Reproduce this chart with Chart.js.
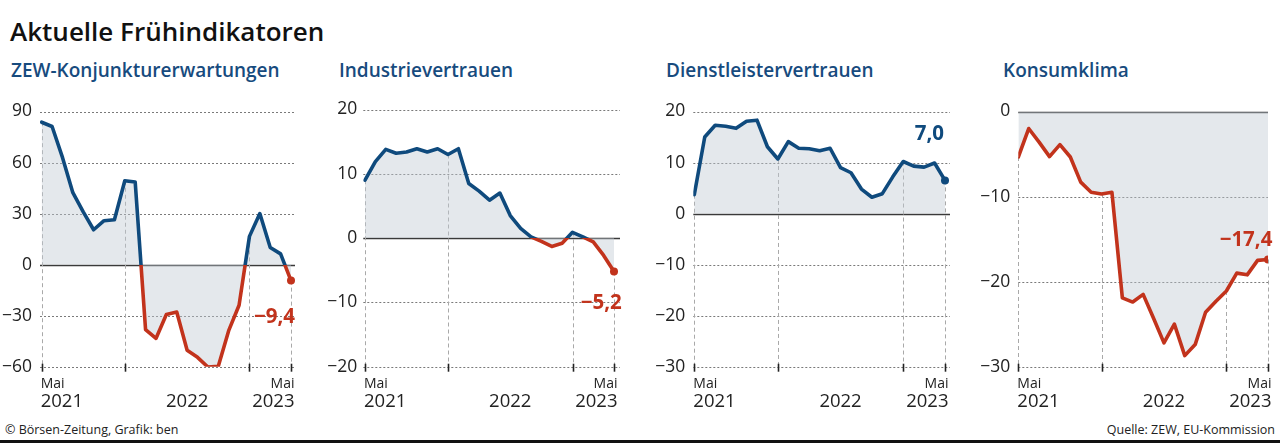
<!DOCTYPE html>
<html><head><meta charset="utf-8">
<script src="https://cdn.jsdelivr.net/npm/chart.js@4.4.0/dist/chart.umd.min.js"></script>
<style>
html,body{margin:0;padding:0;background:#fff;}
body{width:1280px;height:443px;position:relative;overflow:hidden;font-family:'Open Sans',sans-serif;}
.t{position:absolute;white-space:nowrap;line-height:1;}
#title{left:10px;top:18px;font-size:26px;font-weight:600;color:#111;}
.sub{top:61px;font-size:19px;font-weight:600;color:#174b7e;}
canvas{position:absolute;top:93px;}
#foot1{left:5px;top:424px;font-size:12.5px;color:#222;}
#foot2{right:5px;top:424px;font-size:12.5px;color:#222;}
#rule{position:absolute;left:0;top:440px;width:1280px;height:3px;background:#111;}
</style></head><body>
<div class="t" id="title">Aktuelle Frühindikatoren</div>
<div class="t sub" style="left:11px">ZEW-Konjunkturerwartungen</div>
<div class="t sub" style="left:339px">Industrievertrauen</div>
<div class="t sub" style="left:666px">Dienstleistervertrauen</div>
<div class="t sub" style="left:1003px">Konsumklima</div>
<canvas id="c1" width="305" height="322" style="left:0px"></canvas>
<canvas id="c2" width="310" height="322" style="left:320px"></canvas>
<canvas id="c3" width="320" height="322" style="left:640px"></canvas>
<canvas id="c4" width="318" height="322" style="left:960px"></canvas>
<div class="t" id="foot1">© Börsen-Zeitung, Grafik: ben</div>
<div class="t" id="foot2">Quelle: ZEW, EU-Kommission</div>
<div id="rule"></div>
<script>
// ---- data ----
const months = ['Mai 2021','Jun 2021','Jul 2021','Aug 2021','Sep 2021','Okt 2021','Nov 2021','Dez 2021',
  'Jan 2022','Feb 2022','Mär 2022','Apr 2022','Mai 2022','Jun 2022','Jul 2022','Aug 2022','Sep 2022','Okt 2022','Nov 2022','Dez 2022',
  'Jan 2023','Feb 2023','Mär 2023','Apr 2023','Mai 2023'];
const zew = [83.7, 81.2, 63, 42.3, 31, 20.5, 25.8, 26.4, 49.3, 48.6, -38.2, -43.4, -29.3, -27.9, -50.3, -54.5, -60.2, -59.7, -38.8, -23.9, 16.6, 30.0, 10.1, 6.3, -9.4];
const industrie = [9.0, 11.9, 13.8, 13.2, 13.4, 13.9, 13.4, 13.9, 13.0, 13.9, 8.5, 7.3, 5.9, 7.0, 3.5, 1.5, 0.2, -0.5, -1.3, -0.8, 0.9, 0.2, -0.6, -2.7, -5.2];
const dienst = [3.7, 15.0, 17.3, 17.1, 16.7, 18.1, 18.3, 13.1, 10.7, 14.1, 12.8, 12.7, 12.3, 12.8, 9.0, 8.0, 4.8, 3.2, 3.9, 7.2, 10.2, 9.3, 9.1, 9.9, 6.5];
const konsum = [-5.35, -2.0, -3.6, -5.3, -3.9, -5.35, -8.3, -9.5, -9.7, -9.5, -21.9, -22.4, -21.5, -24.3, -27.2, -25.0, -28.7, -27.4, -23.6, -22.3, -21.1, -19.0, -19.2, -17.5, -17.4];
const lastLabels = ['−9,4', '−5,2', '7,0', '−17,4'];
const yTicksZew = [-60, -30, 0, 30, 60, 90];
const yTicksIndustrie = [-20, -10, 0, 10, 20];
const yTicksDienst = [-30, -20, -10, 0, 10, 20];
const yTicksKonsum = [-30, -20, -10, 0];
const dropIdx = [0, 8, 20, 24];
const xLabelIdx = [0, 14, 24];
const xLabelTop = ['Mai', '', 'Mai'];
const xLabelBottom = ['2021', '2022', '2023'];

// ---- style ----
const BLUE = '#0f4a7d', RED = '#c2331c';
const FONT = "'Open Sans', sans-serif";

const panels = [
  {id:'c1', data:zew, ticks:yTicksZew, label:lastLabels[0], axisW:40, tickPad:8, areaLeft:40, areaRight:295, firstX:41.7, lastX:291, labDx:4, labDy:42},
  {id:'c2', data:industrie, ticks:yTicksIndustrie, label:lastLabels[1], axisW:43.3, tickPad:6, areaLeft:363.3, areaRight:620, firstX:365, lastX:614, labDx:7.7, labDy:37.5},
  {id:'c3', data:dienst, ticks:yTicksDienst, label:lastLabels[2], axisW:53.3, tickPad:8, areaLeft:693.3, areaRight:950, firstX:694.3, lastX:945, labDx:-1, labDy:-40},
  {id:'c4', data:konsum, ticks:yTicksKonsum, label:lastLabels[3], axisW:58.3, tickPad:8, areaLeft:1018.3, areaRight:1268.3, firstX:1018.3, lastX:1268.3, labDx:4.4, labDy:-13.3}
];

const fmt = v => (v < 0 ? '−' : '') + Math.abs(v);

const deco = {
  id: 'deco',
  beforeDatasetsDraw(chart) {
    const {ctx, chartArea} = chart;
    const meta = chart.getDatasetMeta(0);
    const ys = chart.scales.y;
    ctx.save();
    // horizontal grid lines from the y scale ticks
    ys.ticks.forEach(t => {
      const y = Math.round(ys.getPixelForValue(t.value)) + 0.5;
      if (t.value === 0) { ctx.setLineDash([]); ctx.strokeStyle = '#3a3a3a'; ctx.lineWidth = 1.5; }
      else { ctx.setLineDash([2, 2]); ctx.strokeStyle = '#7a7a7a'; ctx.lineWidth = 1; }
      ctx.beginPath();
      ctx.moveTo(chartArea.left, y); ctx.lineTo(chartArea.right, y); ctx.stroke();
    });
    // drop lines
    ctx.strokeStyle = '#a9a9a9'; ctx.lineWidth = 1; ctx.setLineDash([4, 3]);
    dropIdx.forEach(i => {
      const p = meta.data[i];
      const x = Math.round(p.x) + 0.5;
      ctx.beginPath(); ctx.moveTo(x, p.y); ctx.lineTo(x, chartArea.bottom); ctx.stroke();
    });
    ctx.restore();
  },
  afterDatasetsDraw(chart) {
    const {ctx, chartArea} = chart;
    const o = chart.options.plugins.deco;
    const meta = chart.getDatasetMeta(0);
    const xs = chart.scales.x;
    ctx.save();
    // tick marks
    ctx.strokeStyle = '#222'; ctx.lineWidth = 1.6;
    dropIdx.forEach(i => {
      const x = Math.round(xs.getPixelForValue(i)) + 0.5;
      ctx.beginPath(); ctx.moveTo(x, chartArea.bottom - 3); ctx.lineTo(x, chartArea.bottom + 5); ctx.stroke();
    });
    // x labels
    ctx.fillStyle = '#222'; ctx.textBaseline = 'alphabetic';
    xLabelIdx.forEach((idx, k) => {
      const x = xs.getPixelForValue(idx);
      let align = 'center', ax = x;
      if (k === 0) { align = 'left'; ax = x - 1; }
      if (k === xLabelIdx.length - 1) { align = 'right'; ax = x + 3.5; }
      ctx.textAlign = align;
      if (xLabelTop[k]) { ctx.font = '14px ' + FONT; ctx.fillText(xLabelTop[k], ax, chartArea.bottom + 21.5); }
      ctx.font = '18.5px ' + FONT; ctx.fillText(xLabelBottom[k], ax, chartArea.bottom + 40);
    });
    // value label
    const data = chart.data.datasets[0].data;
    const last = data[data.length - 1];
    const p = meta.data[data.length - 1];
    ctx.fillStyle = last.y < 0 ? RED : BLUE;
    ctx.font = '700 20.5px ' + FONT; ctx.textAlign = 'right';
    ctx.fillText(o.label, p.x + o.labDx, p.y + o.labDy);
    ctx.restore();
  }
};

panels.forEach(pn => {
  const ppu = (pn.lastX - pn.firstX) / 24;
  const xmin = -(pn.firstX - pn.areaLeft) / ppu;
  const xmax = 24 + (pn.areaRight - pn.lastX) / ppu;
  const n = pn.data.length;
  new Chart(document.getElementById(pn.id), {
    type: 'line',
    data: {
      labels: months,
      datasets: [{
        data: pn.data.map((v, i) => ({x: i, y: v})),
        borderWidth: 3.6,
        borderJoinStyle: 'round',
        borderCapStyle: 'round',
        borderColor: (c) => {
          const chart = c.chart, area = chart.chartArea;
          if (!area) return BLUE;
          const y0 = chart.scales.y.getPixelForValue(0);
          const g = chart.ctx.createLinearGradient(0, area.top, 0, area.bottom);
          const t = Math.min(Math.max((y0 - area.top) / (area.bottom - area.top), 0), 1);
          g.addColorStop(0, BLUE); g.addColorStop(t, BLUE); g.addColorStop(t, RED); g.addColorStop(1, RED);
          return g;
        },
        fill: 'origin',
        backgroundColor: 'rgba(190,199,210,0.42)',
        tension: 0,
        pointRadius: (c) => c.dataIndex === n - 1 ? 4 : 0,
        pointHoverRadius: 0,
        pointBorderWidth: 0,
        pointBackgroundColor: (c) => (c.raw && c.raw.y < 0) ? RED : BLUE
      }]
    },
    options: {
      responsive: false,
      animation: false,
      events: [],
      layout: {padding: {top: 12, bottom: 48.3, left: 0, right: 10}},
      plugins: {legend: {display: false}, tooltip: {enabled: false},
        deco: {label: pn.label, labDx: pn.labDx, labDy: pn.labDy}},
      scales: {
        x: {type: 'linear', min: xmin, max: xmax, display: false},
        y: {
          min: pn.ticks[0], max: pn.ticks[pn.ticks.length - 1],
          afterBuildTicks: (s) => { s.ticks = pn.ticks.map(v => ({value: v})); },
          afterFit: (s) => { s.width = pn.axisW; },
          ticks: {autoSkip: false, padding: pn.tickPad, color: '#222', font: {family: FONT, size: 17.5}, callback: fmt},
          grid: {display: false, drawTicks: false},
          border: {display: false}
        }
      }
    },
    plugins: [deco]
  });
});
</script>
</body></html>
